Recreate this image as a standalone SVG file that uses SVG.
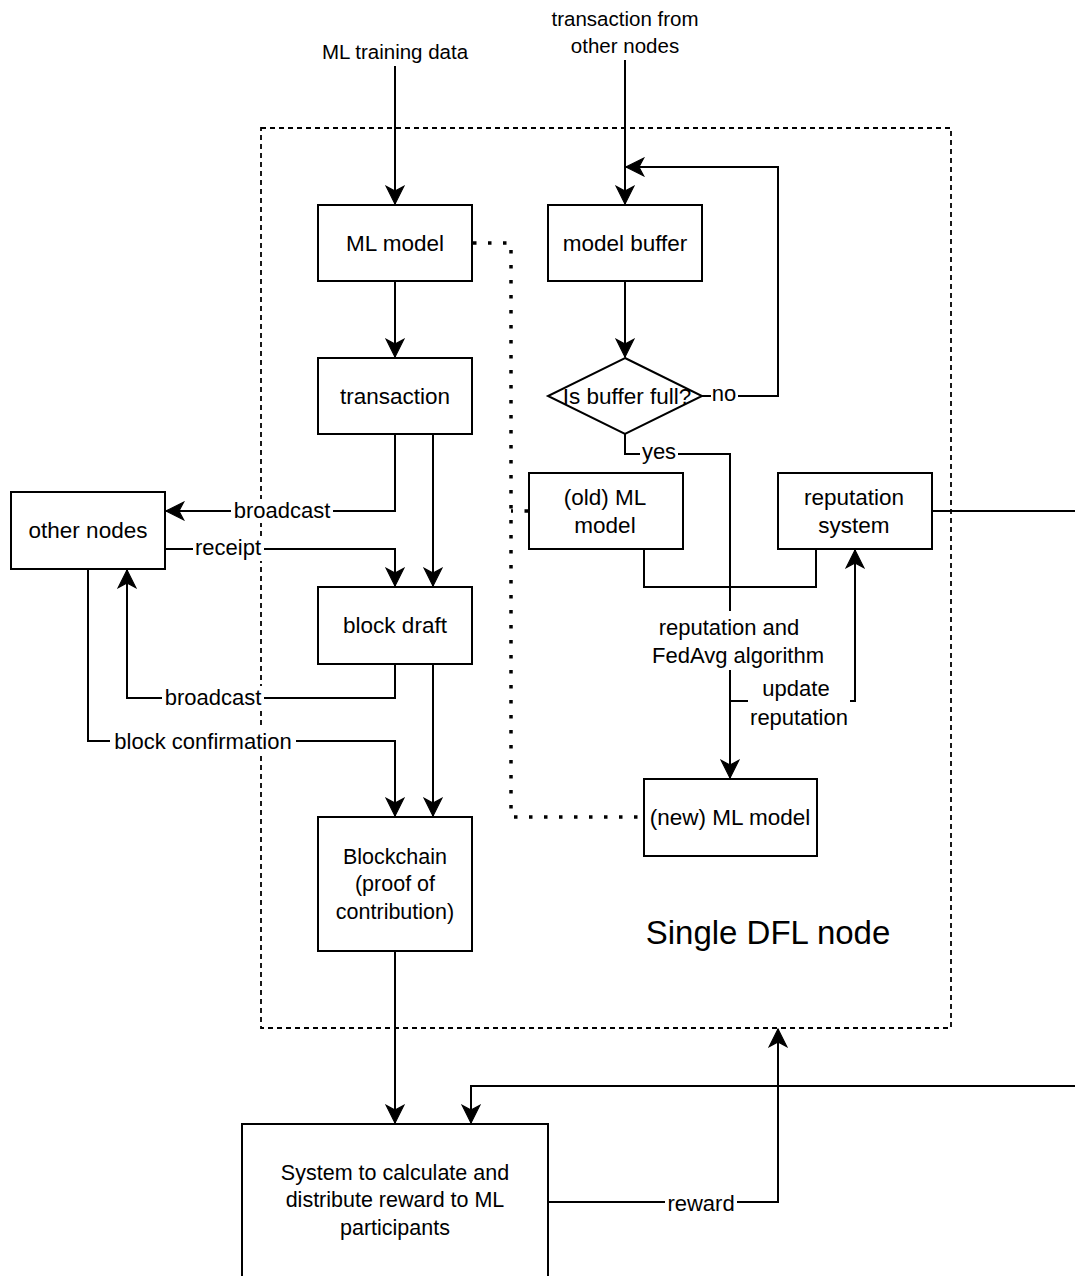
<svg xmlns="http://www.w3.org/2000/svg" width="1075" height="1276" viewBox="0 0 1075 1276">
<style>
  .box { fill: #ffffff; stroke: #000000; stroke-width: 2; }
  .edge { fill: none; stroke: #000000; stroke-width: 2; }
  .dotted { fill: none; stroke: #000000; stroke-width: 3.5; stroke-dasharray: 3.5 11.5; }
  .frame { fill: none; stroke: #000000; stroke-width: 1.8; stroke-dasharray: 5 4; }
  .t { font-family: "Liberation Sans", Arial, Helvetica, sans-serif; font-size: 22.5px; fill: #000000; text-anchor: middle; dominant-baseline: central; }
  .lbl { font-family: "Liberation Sans", Arial, Helvetica, sans-serif; font-size: 22px; fill: #000000; text-anchor: middle; dominant-baseline: central; }
  .top { font-size: 20.5px; }
  .bg { fill: #ffffff; stroke: none; }
</style>
<defs>
  <marker id="arrow" markerUnits="userSpaceOnUse" markerWidth="20" markerHeight="20" viewBox="-16 -8 17 16" refX="0" refY="0" orient="auto">
    <path d="M0,0 L-15,-7.5 L-11,0 L-15,7.5 Z" fill="#000000" stroke="#000000" stroke-width="1"/>
  </marker>
</defs>
<rect width="1075" height="1276" fill="#ffffff"/>

<g id="container">
  <rect class="frame" x="261" y="128" width="690" height="900"/>
  <text class="t" x="768" y="932" style="font-size:33px">Single DFL node</text>
</g>

<g id="connectors">
  <path class="dotted" d="M473,243 H511 V817 H643"/>
  <path class="dotted" d="M528,511 H511"/>
  <path class="edge" d="M395,66 V204" marker-end="url(#arrow)"/>
  <path class="edge" d="M625,60 V204" marker-end="url(#arrow)"/>
  <path class="edge" d="M702,396 H778 V167 H626" marker-end="url(#arrow)"/>
  <path class="edge" d="M625,281 V357" marker-end="url(#arrow)"/>
  <path class="edge" d="M395,281 V357" marker-end="url(#arrow)"/>
  <path class="edge" d="M395,434 V511 H166" marker-end="url(#arrow)"/>
  <path class="edge" d="M433,434 V586" marker-end="url(#arrow)"/>
  <path class="edge" d="M165,549 H395 V586" marker-end="url(#arrow)"/>
  <path class="edge" d="M395,664 V698 H127 V570" marker-end="url(#arrow)"/>
  <path class="edge" d="M88,569 V741 H395 V816" marker-end="url(#arrow)"/>
  <path class="edge" d="M433,664 V816" marker-end="url(#arrow)"/>
  <path class="edge" d="M395,951 V1123" marker-end="url(#arrow)"/>
  <path class="edge" d="M625,434 V454 H730 V778" marker-end="url(#arrow)"/>
  <path class="edge" d="M644,549 V587 H816 V549"/>
  <path class="edge" d="M730,701 H855 V550" marker-end="url(#arrow)"/>
  <path class="edge" d="M932,511 H1100 V1086 H471 V1123" marker-end="url(#arrow)"/>
  <path class="edge" d="M548,1202 H778 V1029" marker-end="url(#arrow)"/>

  <text class="lbl top" x="395" y="51">ML training data</text>
  <text class="lbl top" x="625" y="18">transaction from</text>
  <text class="lbl top" x="625" y="45">other nodes</text>

  <rect class="bg" x="711" y="384" width="27" height="24"/>
  <text class="lbl" x="724" y="393">no</text>
  <rect class="bg" x="231" y="499" width="102" height="24"/>
  <text class="lbl" x="282" y="510">broadcast</text>
  <rect class="bg" x="193" y="537" width="71" height="24"/>
  <text class="lbl" x="228" y="547">receipt</text>
  <rect class="bg" x="162" y="686" width="102" height="24"/>
  <text class="lbl" x="213" y="697">broadcast</text>
  <rect class="bg" x="110" y="729" width="186" height="24"/>
  <text class="lbl" x="203" y="741">block confirmation</text>
  <rect class="bg" x="640" y="442" width="38" height="24"/>
  <text class="lbl" x="659" y="451">yes</text>
  <rect class="bg" x="652" y="611" width="174" height="59"/>
  <text class="lbl" x="729" y="627">reputation and</text>
  <text class="lbl" x="738" y="655">FedAvg algorithm</text>
  <rect class="bg" x="748" y="673" width="102" height="58"/>
  <text class="lbl" x="796" y="688">update</text>
  <text class="lbl" x="799" y="717">reputation</text>
  <rect class="bg" x="665" y="1191" width="72" height="24"/>
  <text class="lbl" x="701" y="1203">reward</text>
</g>

<g id="ml-model">
  <rect class="box" x="318" y="205" width="154" height="76"/>
  <text class="t" x="395" y="243">ML model</text>
</g>
<g id="model-buffer">
  <rect class="box" x="548" y="205" width="154" height="76"/>
  <text class="t" x="625" y="243">model buffer</text>
</g>
<g id="transaction">
  <rect class="box" x="318" y="358" width="154" height="76"/>
  <text class="t" x="395" y="396">transaction</text>
</g>
<g id="buffer-full">
  <path class="box" d="M625,358 L702,396 L625,434 L548,396 Z"/>
  <text class="t" x="627" y="396">Is buffer full?</text>
</g>
<g id="other-nodes">
  <rect class="box" x="11" y="492" width="154" height="77"/>
  <text class="t" x="88" y="530">other nodes</text>
</g>
<g id="old-ml-model">
  <rect class="box" x="529" y="473" width="154" height="76"/>
  <text class="t" x="605" y="497">(old) ML</text>
  <text class="t" x="605" y="525">model</text>
</g>
<g id="reputation-system">
  <rect class="box" x="778" y="473" width="154" height="76"/>
  <text class="t" x="854" y="497">reputation</text>
  <text class="t" x="854" y="525">system</text>
</g>
<g id="block-draft">
  <rect class="box" x="318" y="587" width="154" height="77"/>
  <text class="t" x="395" y="625">block draft</text>
</g>
<g id="new-ml-model">
  <rect class="box" x="644" y="779" width="173" height="77"/>
  <text class="t" x="730" y="817">(new) ML model</text>
</g>
<g id="blockchain">
  <rect class="box" x="318" y="817" width="154" height="134"/>
  <text class="t" x="395" y="857" style="font-size:21.5px">Blockchain</text>
  <text class="t" x="395" y="884" style="font-size:21.5px">(proof of</text>
  <text class="t" x="395" y="912" style="font-size:21.5px">contribution)</text>
</g>
<g id="reward-system">
  <rect class="box" x="242" y="1124" width="306" height="190"/>
  <text class="t" x="395" y="1173" style="font-size:21.5px">System to calculate and</text>
  <text class="t" x="395" y="1200" style="font-size:21.5px">distribute reward to ML</text>
  <text class="t" x="395" y="1228" style="font-size:21.5px">participants</text>
</g>
</svg>
